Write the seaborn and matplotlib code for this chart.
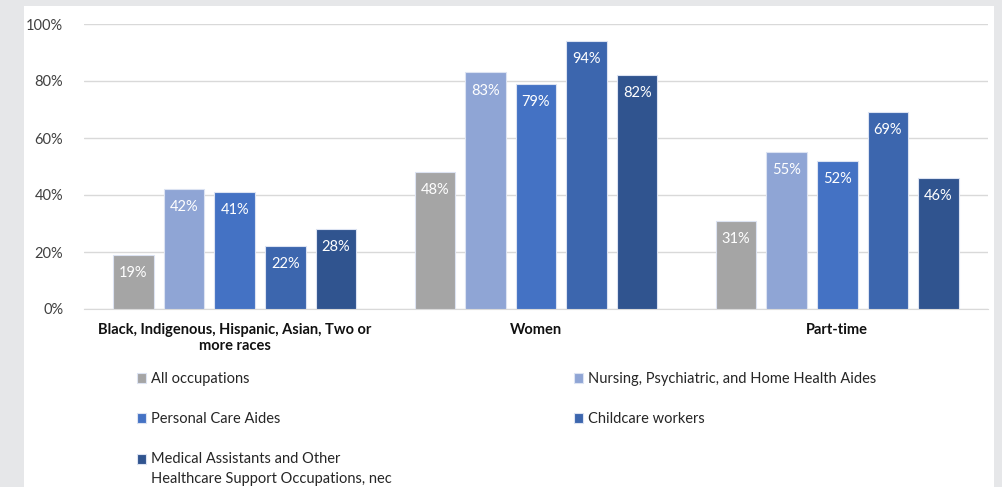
import matplotlib
matplotlib.use("Agg")
import matplotlib.pyplot as plt
from matplotlib.patches import Rectangle
from matplotlib.ticker import PercentFormatter
import seaborn as sns
import pandas as pd

# Worker characteristics by occupation group (share of workers, %)
groups = ["Black, Indigenous, Hispanic, Asian, Two or\nmore races", "Women", "Part-time"]
occupations = [
    "All occupations",
    "Nursing, Psychiatric, and Home Health Aides",
    "Personal Care Aides",
    "Childcare workers",
    "Medical Assistants and Other\nHealthcare Support Occupations, nec",
]
all_occ = [19, 48, 31]
nursing = [42, 83, 55]
personal = [41, 79, 52]
childcare = [22, 94, 69]
medical = [28, 82, 46]

colors = ["#A5A5A5", "#8FA5D5", "#4472C4", "#3C66AE", "#30548F"]

series = [all_occ, nursing, personal, childcare, medical]
rows = []
for occ, vals in zip(occupations, series):
    for g, v in zip(groups, vals):
        rows.append({"group": g, "occupation": occ, "value": v})
df = pd.DataFrame(rows)

sns.set_style("white")
plt.rcParams["font.family"] = ["Lato", "DejaVu Sans"]

fig = plt.figure(figsize=(10.03, 4.87), dpi=100)
fig.patch.set_facecolor("#E6E7E9")
fig.patches.append(Rectangle((24 / 1003, 0), (994 - 24) / 1003, 1 - 6 / 487,
                             transform=fig.transFigure, facecolor="white",
                             edgecolor="none", zorder=-10))

ax = fig.add_axes([84 / 1003, 178 / 487, (988 - 84) / 1003, 285 / 487])
ax.set_facecolor("none")
ax.set_zorder(1)

sns.barplot(data=df, x="group", y="value", hue="occupation", order=groups,
            hue_order=occupations, palette=colors, saturation=1, width=0.84, gap=0.2,
            edgecolor="#DCE3F2", linewidth=0.8, ax=ax, legend=True, zorder=3)

# value labels just inside the top of each bar
for cont in ax.containers:
    for bar in cont:
        h = bar.get_height()
        ax.annotate(f"{h:.0f}%", (bar.get_x() + bar.get_width() / 2, h),
                    xytext=(0, -13), textcoords="offset points",
                    ha="center", va="center", color="white", fontsize=10.5, zorder=4)

ax.set_ylim(0, 100)
ax.set_xlim(-0.5, 2.5)
ax.set_yticks(range(0, 101, 20))
ax.yaxis.set_major_formatter(PercentFormatter(decimals=0))
ax.grid(axis="y", color="#D9D9D9", linewidth=1, zorder=0)
ax.set_axisbelow(True)
for s in ["left", "right", "top"]:
    ax.spines[s].set_visible(False)
ax.spines["bottom"].set_color("#D9D9D9")
ax.tick_params(axis="y", length=0, pad=15, labelsize=10.5, labelcolor="#404040")
ax.tick_params(axis="x", length=0, pad=10, labelsize=10.5)
for lbl in ax.get_xticklabels():
    lbl.set_fontweight("bold")
    lbl.set_color("#111111")
ax.set_xlabel("")
ax.set_ylabel("")

handles, labels = ax.get_legend_handles_labels()
ax.get_legend().remove()
order = [0, 2, 4, 1, 3]
leg = fig.legend([handles[i] for i in order], [labels[i] for i in order],
                 loc="upper left", bbox_to_anchor=(137 / 1003, 1 - 372 / 487),
                 ncol=2, frameon=False, fontsize=10.5, handlelength=0.65, handleheight=0.65,
                 handletextpad=0.3, borderpad=0, borderaxespad=0, columnspacing=12.5,
                 labelspacing=1.78, labelcolor="#262626")
for t in leg.get_texts():
    t.set_linespacing(1.55)
# keep the two-line entry's marker beside its first line
leg.legend_handles[2].set_y(leg.legend_handles[2].get_y() + 7.5)

fig.savefig("out.png", dpi=100)
